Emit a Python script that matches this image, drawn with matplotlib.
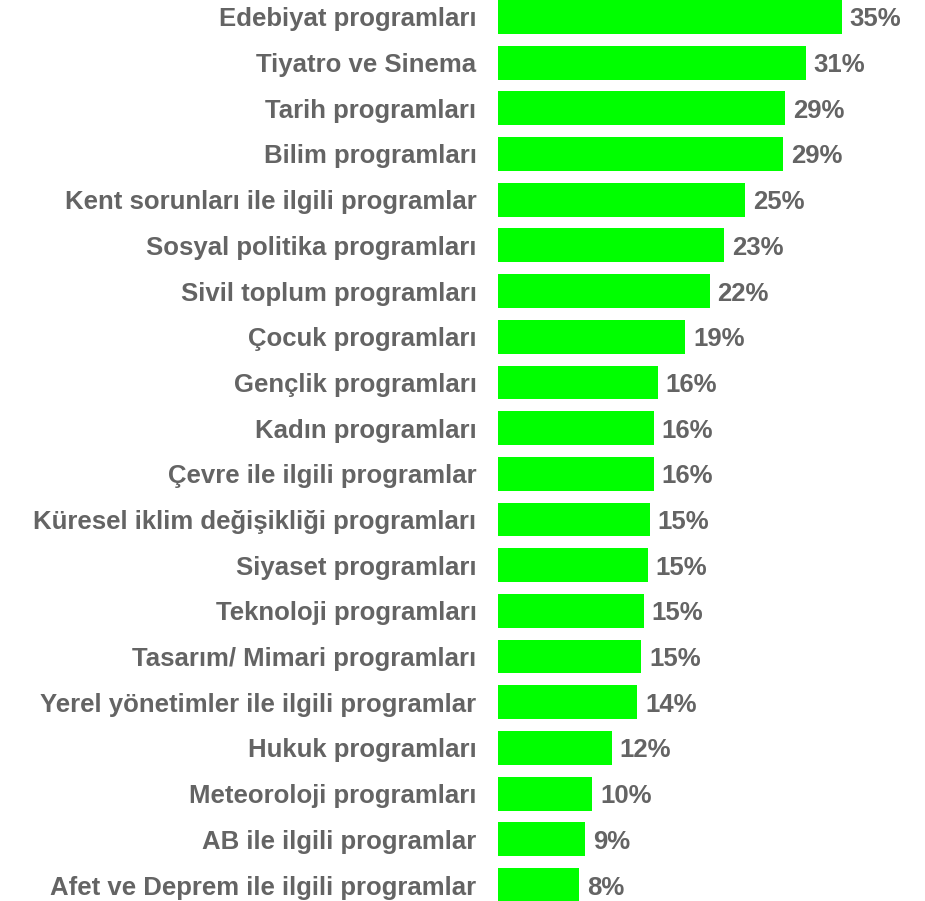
import matplotlib
matplotlib.use("Agg")
import matplotlib.pyplot as plt

# kategoriler (yukaridan asagiya)
kategoriler = [
    "Edebiyat programları",
    "Tiyatro ve Sinema",
    "Tarih programları",
    "Bilim programları",
    "Kent sorunları ile ilgili programlar",
    "Sosyal politika programları",
    "Sivil toplum programları",
    "Çocuk programları",
    "Gençlik programları",
    "Kadın programları",
    "Çevre ile ilgili programlar",
    "Küresel iklim değişikliği programları",
    "Siyaset programları",
    "Teknoloji programları",
    "Tasarım/ Mimari programları",
    "Yerel yönetimler ile ilgili programlar",
    "Hukuk programları",
    "Meteoroloji programları",
    "AB ile ilgili programlar",
    "Afet ve Deprem ile ilgili programlar",
]
degerler = [35.1, 31.4, 29.3, 29.1, 25.2, 23.1, 21.6, 19.1, 16.3, 15.9,
            15.9, 15.5, 15.3, 14.9, 14.6, 14.2, 11.6, 9.6, 8.9, 8.3]
etiketler = ["35%", "31%", "29%", "29%", "25%", "23%", "22%", "19%", "16%", "16%",
             "16%", "15%", "15%", "15%", "15%", "14%", "12%", "10%", "9%", "8%"]

gri = "#646464"
yesil = "#00ff00"

fig = plt.figure(figsize=(9.25, 9.01), dpi=100)
ax = fig.add_axes([498 / 925, 0, 1 - 498 / 925, 1])

y = list(range(len(kategoriler)))
ax.barh(y, degerler, height=0.74, color=yesil)

for yi, v, e in zip(y, degerler, etiketler):
    ax.text(v + 0.8, yi, e, va="center_baseline", ha="left", fontsize=18.5,
            fontweight="bold", color=gri, family="Liberation Sans")

ax.set_yticks(y)
ax.set_yticklabels(kategoriler, fontsize=18.5, fontweight="bold", color=gri,
                   family="Liberation Sans", va="center_baseline")
ax.tick_params(axis="y", length=0, pad=15.5)
ax.set_xticks([])
ax.set_xlim(0, (925 - 498) / 9.8)
ax.set_ylim(19.35, -0.37)
for s in ax.spines.values():
    s.set_visible(False)

fig.savefig("out.png", dpi=100)
